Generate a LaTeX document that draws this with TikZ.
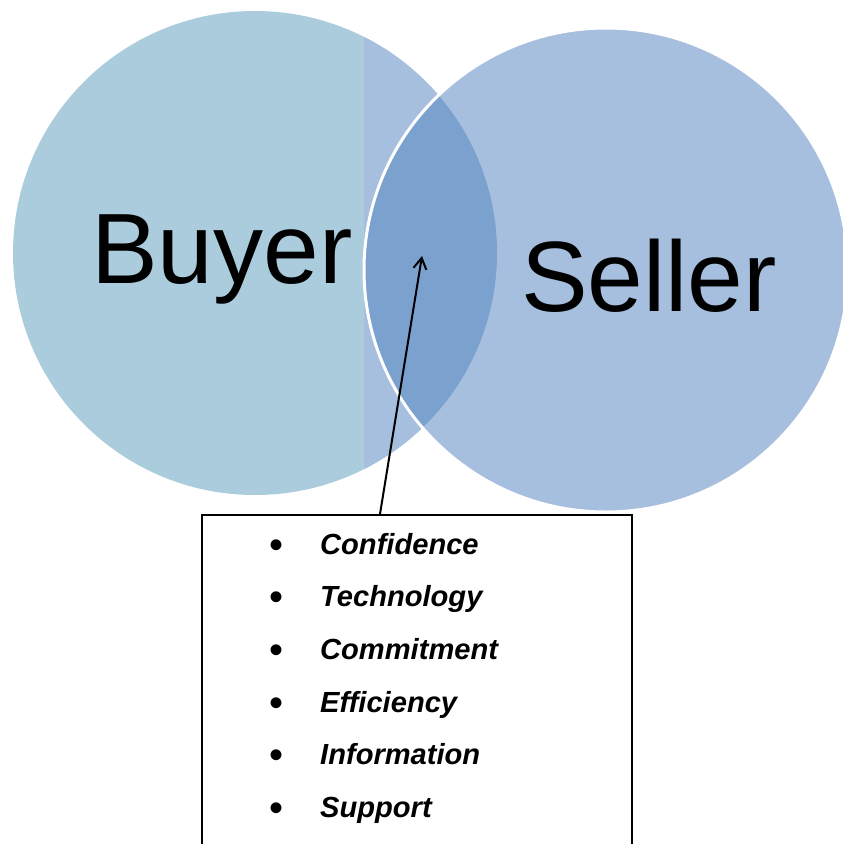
\documentclass[tikz,border=0pt]{standalone}
\usepackage{fontspec}
\setmainfont{Liberation Sans}
\usetikzlibrary{matrix,arrows.meta}
\definecolor{buyerblue}{RGB}{170,204,221}
\definecolor{sellerblue}{RGB}{167,191,222}
\definecolor{overlapblue}{RGB}{123,161,206}

\begin{document}
\begin{tikzpicture}[x=1pt,y=-1pt,>={Straight Barb[length=11pt,width=13pt]},
    venn/.style={circle,minimum size=484pt,inner sep=0pt},
    bigword/.style={anchor=base west,inner sep=0pt,font=\fontsize{100}{104}\selectfont}]
    \useasboundingbox (0,0) rectangle (843,844);
    \clip (0,0) rectangle (843,844);
    % the two circles
    \node (buyer) [venn,fill=buyerblue] at (255,253) {};
    \begin{scope}
      \clip (364,0) rectangle (843,844);
      \fill[sellerblue] (buyer.center) circle (242);
    \end{scope}
    \node (seller) [venn,fill=sellerblue] at (606,270) {};
    \begin{scope}
      \clip (buyer.center) circle (242);
      \fill[overlapblue] (seller.center) circle (242);
    \end{scope}
    \draw[white,line width=3pt] (seller.center) circle (242);
    \node (buyerword) [bigword] at (91,283) {Buyer};
    \node (sellerword) [bigword] at (521,311) {Seller};
    % what they share
    \node (perkbox) [draw,line width=1.5pt,minimum width=430pt,minimum height=360pt,anchor=north] at (417,514) {};
    \matrix (perks) [%
      matrix of nodes,
      anchor=north west,
      inner sep=0pt,
      column sep=37pt,
      row sep=26.6pt,
      nodes={anchor=base west,inner sep=0pt,text height=20pt,text depth=6pt},
      column 1/.style={font=\fontsize{40}{40}\selectfont},
      column 2/.style={font=\fontsize{29.1}{31}\selectfont\bfseries\itshape},
    ] at (269,534)
    {
      \raisebox{-4pt}{\textbullet} & Confidence \\
      \raisebox{-4pt}{\textbullet} & Technology \\
      \raisebox{-4pt}{\textbullet} & Commitment \\
      \raisebox{-4pt}{\textbullet} & Efficiency \\
      \raisebox{-4pt}{\textbullet} & Information \\
      \raisebox{-4pt}{\textbullet} & Support \\
    };
    \coordinate (overlaptip) at (422,256);
    \draw[->,line width=2pt] ([xshift=-37pt]perkbox.north) -- (overlaptip);
\end{tikzpicture}
\end{document}
